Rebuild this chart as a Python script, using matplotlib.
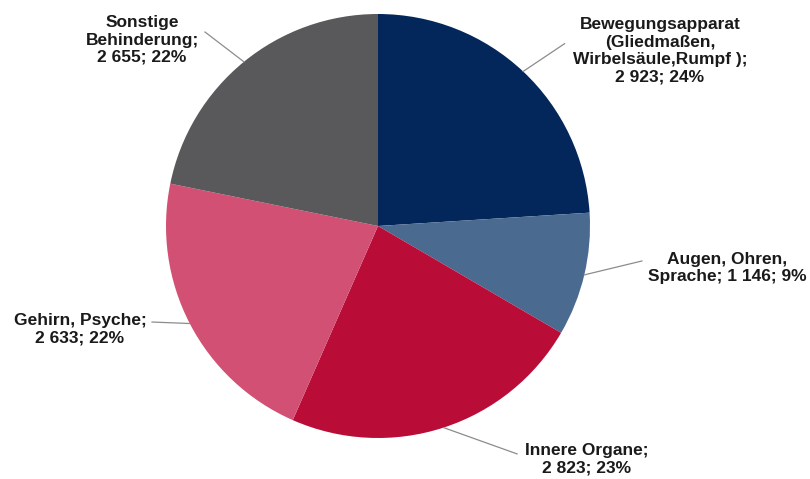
import numpy as np
import matplotlib
matplotlib.use('Agg')
import matplotlib.pyplot as plt

plt.rcParams['font.family'] = ['Liberation Sans', 'DejaVu Sans']

categories = ["Bewegungsapparat\n(Gliedmaßen,\nWirbelsäule,Rumpf );",
              "Augen, Ohren,\nSprache;",
              "Innere Organe;",
              "Gehirn, Psyche;",
              "Sonstige\nBehinderung;"]
values = [2923, 1146, 2823, 2633, 2655]
value_labels = ["2 923; 24%", "1 146; 9%", "2 823; 23%", "2 633; 22%", "2 655; 22%"]
colors = ["#03275a", "#4b6a90", "#b90d38", "#d25073", "#59595b"]

# how the value part joins the category name in each label
separators = ["\n", " ", "\n", "\n", "\n"]

# label layout (data units, pie radius = 1)
elbows = [(0.88, 0.86), (1.245, -0.165), (0.656, -1.075), (-1.066, -0.453), (-0.816, 0.915)]
text_pos = [(1.33, 0.825), (1.646, -0.198), (0.986, -1.099), (-1.406, -0.486), (-1.113, 0.877)]

fig = plt.figure(figsize=(8.1, 4.79), dpi=100)
cx, cy, r = 378, 226, 212
ax = fig.add_axes([(cx - r) / 810, (479 - cy - r) / 479, 2 * r / 810, 2 * r / 479])

wedges, _ = ax.pie(values, colors=colors, startangle=90, counterclock=False,
                   radius=1, wedgeprops=dict(linewidth=0))
ax.set_xlim(-1, 1)
ax.set_ylim(-1, 1)
ax.axis('off')

for i, w in enumerate(wedges):
    # leader line from the middle of the wedge's arc
    ang = np.deg2rad((w.theta1 + w.theta2) / 2)
    x0, y0 = np.cos(ang), np.sin(ang)
    ex, ey = elbows[i]
    ax.plot([x0, ex], [y0, ey], color="#8c8c8c", lw=0.9, clip_on=False)

    label = categories[i] + separators[i] + value_labels[i]
    tx, ty = text_pos[i]
    ax.text(tx, ty, label, ha='center', va='center', fontsize=12.5,
            fontweight='bold', color="#1a1a1a", linespacing=1.2, clip_on=False)

fig.savefig("out.png", dpi=100)
